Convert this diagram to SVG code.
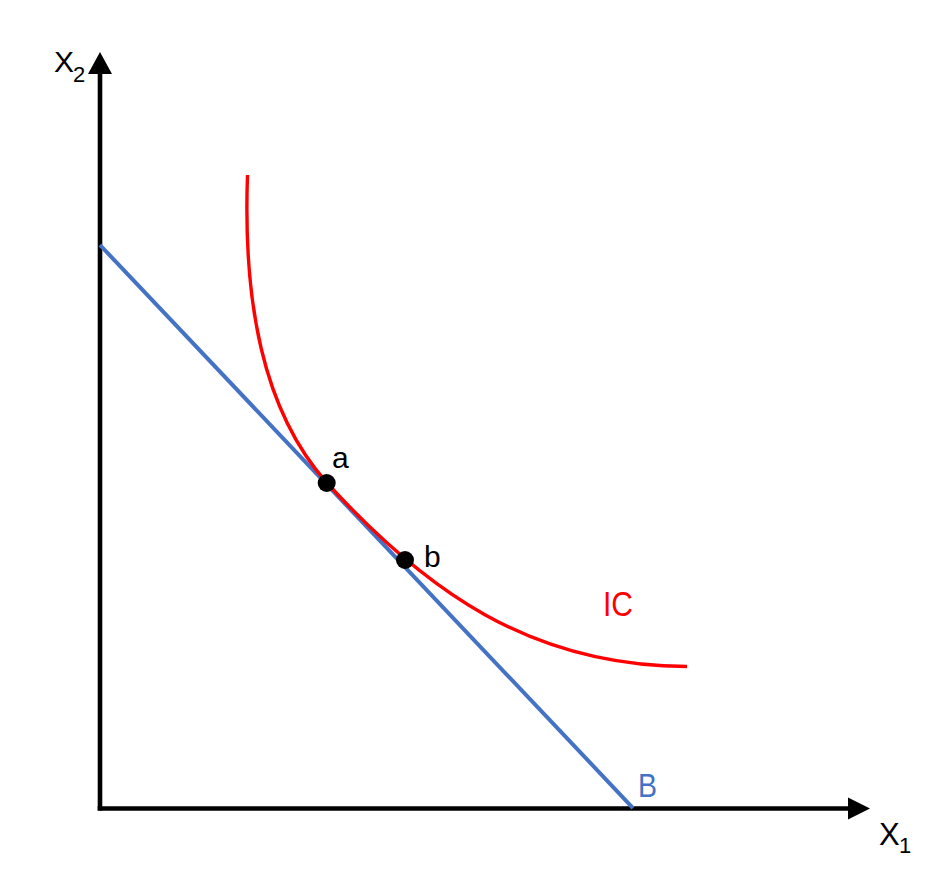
<svg xmlns="http://www.w3.org/2000/svg" width="944" height="884" viewBox="0 0 944 884">
<style>
.axis{stroke:#000;stroke-width:4.6;fill:none}
.lbl{font-family:"Liberation Sans",Arial,sans-serif;fill:#000}
.red{fill:#FF0000}
.blue{fill:#4472C4}
.dot{fill:#000}
</style>
<rect width="944" height="884" fill="#fff"/>
<g id="axes">
<line class="axis" x1="100" y1="810.5" x2="100" y2="70"/>
<polygon points="100,52 88,74 112,74" fill="#000"/>
<line class="axis" x1="97.7" y1="808.5" x2="850" y2="808.5"/>
<polygon points="870,808.5 848,797.5 848,819.5" fill="#000"/>
<text class="lbl" x="54" y="72" font-size="30">X</text>
<text class="lbl" x="73" y="81.5" font-size="22">2</text>
<text class="lbl" x="879" y="845" font-size="31">X</text>
<text class="lbl" x="899" y="852.5" font-size="22">1</text>
</g>
<g id="connectors">
<line id="budget" x1="100" y1="245" x2="633" y2="808" stroke="#4472C4" stroke-width="4"/>
<path id="ic" d="M247.5,175 C243,300 262,410 327,483 C425,590 530,666 687,666.5" fill="none" stroke="#FF0000" stroke-width="3.4"/>
</g>
<g id="point-a">
<circle class="dot" cx="326.7" cy="483" r="9"/>
<text class="lbl" x="332" y="468" font-size="30">a</text>
</g>
<g id="point-b">
<circle class="dot" cx="405" cy="560" r="9"/>
<text class="lbl" x="424" y="567" font-size="30">b</text>
</g>
<g id="label-ic">
<text class="lbl red" x="603" y="616" font-size="35" textLength="30" lengthAdjust="spacingAndGlyphs">IC</text>
</g>
<g id="label-b">
<text class="lbl blue" x="638" y="797" font-size="33" textLength="19" lengthAdjust="spacingAndGlyphs">B</text>
</g>
</svg>
